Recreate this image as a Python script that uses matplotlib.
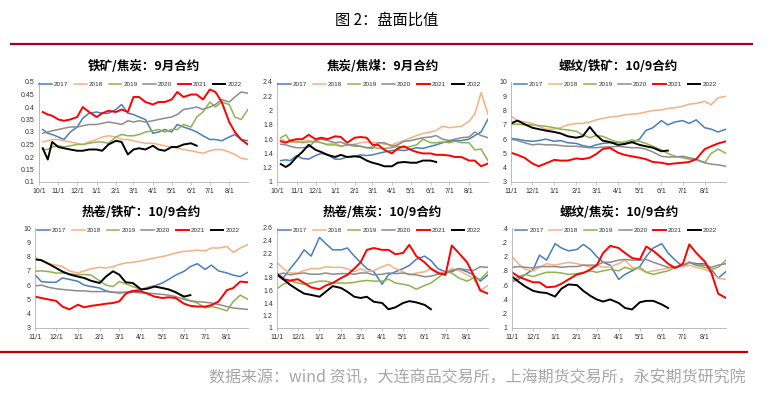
import matplotlib
matplotlib.use("Agg")
import matplotlib.pyplot as plt
import matplotlib.lines as mlines
import pandas as pd

plt.rcParams['font.family'] = ['Liberation Sans', 'Noto Sans CJK SC', 'DejaVu Sans']

YEARS = ['2017', '2018', '2019', '2020', '2021', '2022']
COLORS = ['#4a7ebb', '#f6b083', '#8fb34f', '#8c8c8c', '#ff0000', '#000000']
WIDTHS = [1.1, 1.1, 1.1, 1.1, 1.4, 1.4]

DATES_OCT = ['10-07', '10-15', '10-22', '11-01', '11-10', '11-20', '12-01', '12-10', '12-20',
             '01-01', '01-10', '01-20', '02-01', '02-10', '02-20', '03-01', '03-10', '03-20',
             '04-01', '04-10', '04-20', '05-01', '05-10', '05-20', '06-01', '06-10', '06-20',
             '07-01', '07-10', '07-20', '08-01', '08-10', '08-20', '08-31']
DATES_NOV = DATES_OCT[3:]

TICKS_OCT = ['10/1', '11/1', '12/1', '1/1', '2/1', '3/1', '4/1', '5/1', '6/1', '7/1', '8/1']
TICKS_NOV = TICKS_OCT[1:]

# Panel 1: 铁矿/焦炭 9月合约
P1 = {
    '2017': [.31, .295, .29, .28, .27, .30, .32, .355, .375, .38, .375, .375, .39, .41, .375, .37, .36, .35,
             .295, .30, .31, .30, .33, .32, .31, .30, .285, .27, .27, .265, .28, .29, .27, .265],
    '2018': [.26, .265, .27, .27, .265, .26, .255, .25, .26, .27, .28, .285, .28, .27, .27, .265, .26, .255,
             .255, .25, .245, .24, .235, .23, .225, .22, .215, .225, .23, .23, .22, .21, .195, .19],
    '2019': [.23, .23, .24, .245, .24, .245, .25, .25, .255, .26, .26, .255, .28, .29, .285, .285, .29, .30,
             .305, .31, .30, .31, .31, .33, .32, .36, .38, .42, .40, .42, .41, .36, .35, .39],
    '2020': [.295, .30, .305, .31, .315, .32, .32, .325, .33, .33, .335, .34, .335, .33, .345, .34, .345, .34,
             .345, .35, .355, .36, .37, .39, .395, .40, .39, .40, .41, .43, .42, .44, .46, .455],
    '2021': [.38, .37, .365, .35, .345, .35, .36, .40, .38, .36, .375, .385, .38, .39, .38, .44, .44, .42,
             .41, .42, .42, .43, .46, .44, .45, .45, .43, .47, .46, .42, .34, .30, .27, .25],
    '2022': [.235, .19, .26, .24, .235, .23, .225, .225, .23, .23, .225, .25, .265, .26, .21, .23, .235, .23,
             .245, .23, .225, .24, .24, .25, .255, .245],
}
# Panel 2: 焦炭/焦煤 9月合约
P2 = {
    '2017': [1.30, 1.31, 1.30, 1.37, 1.33, 1.32, 1.37, 1.40, 1.38, 1.32, 1.32, 1.35, 1.36, 1.38, 1.37, 1.38, 1.40,
             1.42, 1.44, 1.45, 1.44, 1.46, 1.48, 1.47, 1.50, 1.52, 1.55, 1.57, 1.58, 1.58, 1.60, 1.65, 1.70, 1.88],
    '2018': [1.60, 1.57, 1.56, 1.55, 1.57, 1.58, 1.56, 1.55, 1.53, 1.55, 1.50, 1.52, 1.53, 1.55, 1.56, 1.55, 1.55,
             1.53, 1.52, 1.55, 1.58, 1.62, 1.65, 1.68, 1.70, 1.72, 1.78, 1.76, 1.77, 1.78, 1.85, 1.95, 2.25, 1.95],
    '2019': [1.62, 1.66, 1.57, 1.57, 1.55, 1.56, 1.57, 1.55, 1.52, 1.52, 1.50, 1.52, 1.50, 1.50, 1.48, 1.49, 1.47,
             1.47, 1.48, 1.50, 1.48, 1.50, 1.52, 1.60, 1.55, 1.55, 1.56, 1.55, 1.57, 1.55, 1.55, 1.45, 1.46, 1.30],
    '2020': [1.53, 1.52, 1.50, 1.48, 1.48, 1.49, 1.58, 1.60, 1.58, 1.55, 1.56, 1.52, 1.52, 1.50, 1.48, 1.47, 1.55,
             1.55, 1.50, 1.52, 1.57, 1.58, 1.60, 1.62, 1.63, 1.65, 1.60, 1.58, 1.60, 1.62, 1.63, 1.70, 1.65, 1.62],
    '2021': [1.57, 1.55, 1.58, 1.60, 1.60, 1.66, 1.60, 1.62, 1.60, 1.64, 1.63, 1.55, 1.62, 1.63, 1.62, 1.52, 1.52,
             1.45, 1.40, 1.47, 1.50, 1.45, 1.42, 1.40, 1.40, 1.38, 1.38, 1.37, 1.35, 1.35, 1.30, 1.30, 1.22, 1.26],
    '2022': [1.25, 1.21, 1.25, 1.35, 1.42, 1.52, 1.45, 1.42, 1.38, 1.35, 1.38, 1.35, 1.36, 1.35, 1.30, 1.27, 1.25,
             1.22, 1.22, 1.27, 1.28, 1.27, 1.27, 1.30, 1.30, 1.28],
}
# Panel 3: 螺纹/铁矿 10/9合约
P3 = {
    '2017': [6.05, 6.0, 5.9, 5.85, 5.9, 6.0, 5.85, 5.9, 5.75, 5.7, 5.55, 5.45, 5.6, 5.7, 5.75, 5.8, 5.7, 5.75,
             6.0, 6.6, 6.8, 7.3, 7.0, 7.2, 7.3, 7.1, 7.35, 6.8, 6.7, 6.5, 6.7],
    '2018': [7.6, 7.3, 7.2, 7.1, 6.9, 6.7, 6.7, 6.8, 7.0, 7.1, 7.1, 7.2, 7.35, 7.45, 7.55, 7.6, 7.7, 7.75,
             7.8, 7.9, 8.0, 8.05, 8.15, 8.2, 8.3, 8.45, 8.5, 8.65, 8.4, 8.9, 9.0],
    '2019': [7.05, 7.05, 7.0, 7.0, 6.95, 6.9, 6.8, 6.7, 6.65, 6.55, 6.3, 6.1, 6.25, 6.2, 6.0, 5.75, 5.8, 5.95,
             5.85, 5.7, 5.5, 5.25, 5.0, 4.8, 4.7, 4.6, 4.55, 4.35, 5.0, 5.3, 5.0],
    '2020': [6.0, 5.9, 5.75, 5.6, 5.65, 5.6, 5.6, 5.55, 5.5, 5.5, 5.45, 5.4, 5.4, 5.45, 5.45, 5.5, 5.45, 5.4,
             5.4, 5.3, 5.1, 4.8, 4.75, 4.75, 4.8, 4.7, 4.6, 4.35, 4.25, 4.2, 4.1],
    '2021': [5.05, 4.9, 4.7, 4.3, 4.1, 4.3, 4.55, 4.5, 4.5, 4.65, 4.6, 4.7, 4.95, 5.3, 5.4, 5.05, 4.9, 4.8,
             4.7, 4.6, 4.4, 4.35, 4.25, 4.3, 4.35, 4.4, 4.6, 5.3, 5.5, 5.7, 5.85],
    '2022': [7.1, 7.3, 7.05, 6.8, 6.7, 6.6, 6.5, 6.4, 6.2, 6.1, 6.2, 6.85, 6.3, 5.9, 5.8, 5.6, 5.65, 5.8,
             5.6, 5.5, 5.4, 5.15, 5.2],
}
# Panel 4: 热卷/铁矿 10/9合约
P4 = {
    '2017': [6.73, 6.25, 6.2, 6.2, 6.5, 6.4, 6.27, 6.0, 5.9, 5.8, 5.6, 5.5, 5.45, 5.5, 5.6, 5.7, 5.8, 5.95,
             6.15, 6.4, 6.7, 6.97, 7.3, 7.5, 7.1, 7.4, 7.0, 6.85, 6.7, 6.6, 6.9],
    '2018': [7.95, 7.7, 7.5, 7.4, 7.3, 7.0, 6.85, 7.0, 7.15, 7.25, 7.2, 7.3, 7.45, 7.55, 7.6, 7.7, 7.8, 7.9,
             8.0, 8.1, 8.25, 8.37, 8.4, 8.45, 8.4, 8.6, 8.6, 8.7, 8.3, 8.6, 8.85],
    '2019': [6.97, 7.0, 6.95, 6.85, 6.85, 6.8, 6.73, 6.75, 6.7, 6.3, 6.0, 5.9, 6.25, 6.1, 5.9, 5.7, 5.85, 5.95,
             5.8, 5.7, 5.55, 5.1, 4.9, 4.75, 4.4, 4.5, 4.4, 4.2, 4.85, 5.3, 5.0],
    '2020': [5.95, 6.0, 5.85, 5.75, 5.7, 5.65, 5.6, 5.6, 5.55, 5.55, 5.55, 5.5, 5.5, 5.5, 5.5, 5.45, 5.45, 5.4,
             5.35, 5.3, 5.2, 5.0, 4.9, 4.85, 4.8, 4.75, 4.65, 4.5, 4.4, 4.35, 4.3],
    '2021': [5.2, 5.1, 5.0, 4.9, 4.5, 4.3, 4.63, 4.45, 4.55, 4.63, 4.7, 4.75, 4.87, 5.4, 5.6, 5.57, 5.4, 5.2,
             5.1, 5.15, 5.1, 4.7, 4.55, 4.5, 4.5, 4.6, 4.85, 5.65, 5.8, 6.25, 6.2],
    '2022': [7.8, 7.75, 7.5, 7.2, 6.95, 6.75, 6.6, 6.5, 6.3, 6.15, 6.6, 6.97, 6.73, 6.2, 6.15, 5.7, 5.75, 5.9,
             5.8, 5.7, 5.5, 5.2, 5.3],
}
# Panel 5: 热卷/焦炭 10/9合约
P5 = {
    '2017': [1.88, 1.80, 1.95, 2.1, 2.25, 2.15, 2.45, 2.35, 2.25, 2.25, 2.28, 2.15, 2.05, 1.95, 1.90, 1.70, 1.85,
             1.90, 1.95, 2.0, 2.10, 2.15, 2.08, 1.95, 1.90, 1.90, 1.95, 1.90, 1.85, 1.75, 1.85],
    '2018': [2.05, 1.95, 1.88, 1.88, 1.92, 1.95, 1.95, 1.98, 1.97, 1.97, 1.95, 1.90, 1.95, 1.90, 1.92, 1.98, 2.02,
             1.95, 1.90, 1.85, 1.88, 1.90, 1.95, 1.90, 1.88, 1.95, 1.92, 1.85, 1.80, 1.60, 1.68],
    '2019': [1.63, 1.70, 1.75, 1.72, 1.70, 1.72, 1.75, 1.75, 1.72, 1.72, 1.72, 1.73, 1.75, 1.76, 1.75, 1.75, 1.78,
             1.72, 1.70, 1.68, 1.62, 1.68, 1.72, 1.80, 1.90, 1.88, 1.80, 1.75, 1.80, 1.78, 1.90],
    '2020': [1.85, 1.88, 1.85, 1.87, 1.88, 1.86, 1.86, 1.88, 1.86, 1.87, 1.87, 1.86, 1.88, 1.88, 1.85, 1.86, 1.88,
             1.87, 1.88, 1.86, 1.85, 1.82, 1.83, 1.86, 1.88, 1.92, 1.95, 1.93, 1.92, 1.98, 1.97],
    '2021': [1.85, 1.78, 1.76, 1.78, 1.72, 1.65, 1.62, 1.68, 1.72, 1.80, 1.85, 1.95, 2.05, 2.25, 2.28, 2.25, 2.25,
             2.18, 2.20, 2.33, 2.15, 2.05, 1.95, 1.88, 1.85, 2.32, 2.20, 2.05, 1.85, 1.60, 1.55],
    '2022': [1.86, 1.78, 1.69, 1.61, 1.55, 1.53, 1.50, 1.58, 1.67, 1.64, 1.58, 1.50, 1.48, 1.50, 1.42, 1.40, 1.30,
             1.33, 1.40, 1.43, 1.41, 1.37, 1.30],
}
# Panel 6: 螺纹/焦炭 10/9合约
P6 = {
    '2017': [1.65, 1.68, 1.75, 1.82, 2.02, 1.95, 2.18, 2.12, 2.08, 2.10, 2.17, 2.10, 2.00, 1.92, 1.88, 1.68, 1.75,
             1.80, 1.86, 2.0, 2.12, 2.18, 2.05, 1.95, 1.86, 1.92, 1.90, 1.90, 1.82, 1.70, 1.79],
    '2018': [2.0, 1.90, 1.82, 1.80, 1.85, 1.90, 1.88, 1.90, 1.92, 1.90, 1.88, 1.85, 1.88, 1.85, 1.86, 1.90, 1.95,
             1.85, 1.82, 1.78, 1.80, 1.82, 1.84, 1.85, 1.86, 1.88, 1.85, 1.82, 1.78, 1.70, 1.68],
    '2019': [1.65, 1.72, 1.75, 1.72, 1.75, 1.78, 1.78, 1.77, 1.75, 1.76, 1.78, 1.80, 1.78, 1.80, 1.82, 1.80, 1.85,
             1.82, 1.85, 1.78, 1.75, 1.78, 1.80, 1.85, 1.88, 1.92, 1.88, 1.85, 1.82, 1.85, 1.95],
    '2020': [1.85, 1.86, 1.85, 1.84, 1.86, 1.86, 1.86, 1.85, 1.86, 1.86, 1.88, 1.88, 1.88, 1.92, 1.92, 1.95, 1.96,
             1.95, 1.95, 1.96, 1.92, 1.88, 1.85, 1.85, 1.88, 1.92, 1.88, 1.88, 1.85, 1.88, 1.90],
    '2021': [1.78, 1.72, 1.68, 1.64, 1.64, 1.57, 1.58, 1.62, 1.68, 1.75, 1.77, 1.82, 1.88, 2.05, 2.15, 2.12, 2.05,
             1.98, 1.96, 2.14, 2.08, 1.98, 1.90, 1.84, 1.90, 2.17, 2.05, 1.93, 1.78, 1.48, 1.42],
    '2022': [1.72, 1.65, 1.58, 1.52, 1.50, 1.49, 1.44, 1.55, 1.61, 1.60, 1.52, 1.45, 1.40, 1.37, 1.40, 1.35, 1.28,
             1.26, 1.36, 1.38, 1.38, 1.33, 1.28],
}

TITLES = ['铁矿/焦炭：9月合约', '焦炭/焦煤：9月合约', '螺纹/铁矿：10/9合约',
          '热卷/铁矿：10/9合约', '热卷/焦炭：10/9合约', '螺纹/焦炭：10/9合约']

Y1_TICKS = [0.1, 0.15, 0.2, 0.25, 0.3, 0.35, 0.4, 0.45, 0.5]
Y1_LABELS = ['0.1', '0.15', '0.2', '0.25', '0.3', '0.35', '0.4', '0.45', '0.5']
Y2_TICKS = [1, 1.2, 1.4, 1.6, 1.8, 2, 2.2, 2.4]
Y2_LABELS = ['1', '1.2', '1.4', '1.6', '1.8', '2', '2.2', '2.4']
Y3_TICKS = [3, 4, 5, 6, 7, 8, 9, 10]
Y3_LABELS = ['3', '4', '5', '6', '7', '8', '9', '10']
Y5_TICKS = [1, 1.2, 1.4, 1.6, 1.8, 2, 2.2, 2.4, 2.6]
Y5_LABELS = ['1', '1.2', '1.4', '1.6', '1.8', '2', '2.2', '2.4', '2.6']
Y6_LABELS = ['1', '.2', '.4', '.6', '.8', '2', '.2', '.4']


def to_dates(mds):
    out = []
    for md in mds:
        m = int(md[:2])
        y = 2000 if m >= 10 else 2001
        out.append(pd.Timestamp(f"{y}-{md}"))
    return out


def month_ticks(labels):
    out = []
    for lab in labels:
        m = int(lab.split('/')[0])
        y = 2000 if m >= 10 else 2001
        out.append(pd.Timestamp(year=y, month=m, day=1))
    return out


W, H = 774, 398
fig = plt.figure(figsize=(W / 100, H / 100), dpi=100)


def px_axes(x0, x1, y0, y1):
    return fig.add_axes([x0 / W, 1 - y1 / H, (x1 - x0) / W, (y1 - y0) / H])


panels = [
    (P1, DATES_OCT, TICKS_OCT, Y1_TICKS, Y1_LABELS, (39, 248, 82, 182), '10-01'),
    (P2, DATES_OCT, TICKS_OCT, Y2_TICKS, Y2_LABELS, (277, 488, 82, 182), '10-01'),
    (P3, DATES_NOV, TICKS_NOV, Y3_TICKS, Y3_LABELS, (511, 726, 82, 182), '11-01'),
    (P4, DATES_NOV, TICKS_NOV, Y3_TICKS, Y3_LABELS, (35, 248, 228, 328), '11-01'),
    (P5, DATES_NOV, TICKS_NOV, Y5_TICKS, Y5_LABELS, (277, 488, 228, 328), '11-01'),
    (P6, DATES_NOV, TICKS_NOV, Y2_TICKS, Y6_LABELS, (512, 726, 228, 328), '11-01'),
]

for i, (data, dates, xt, yt, yl, box, start) in enumerate(panels):
    ax = px_axes(*box)
    d = to_dates(dates)
    for yr, c, lw in zip(YEARS, COLORS, WIDTHS):
        vals = data[yr]
        ax.plot(d[:len(vals)], vals, color=c, lw=lw, solid_joinstyle='round')
    ax.set_xlim(to_dates([start])[0], pd.Timestamp('2001-08-31'))
    ax.set_ylim(yt[0], yt[-1])
    ax.set_yticks(yt)
    ax.set_yticklabels(yl)
    ax.set_xticks(month_ticks(xt))
    ax.set_xticklabels(xt)
    for s in ['top', 'right']:
        ax.spines[s].set_visible(False)
    for s in ['left', 'bottom']:
        ax.spines[s].set_color('#b0b0b0')
        ax.spines[s].set_linewidth(0.6)
    ax.tick_params(axis='x', labelsize=5, length=2, width=0.5, color='#b0b0b0', pad=2,
                   labelcolor='#333333')
    ax.tick_params(axis='y', labelsize=5, length=0, pad=3, labelcolor='#333333')
    cx = (box[0] + box[1]) / 2
    ty = 66 if box[2] < 100 else 212
    fig.text(cx / W, 1 - ty / H, TITLES[i], ha='center', va='center', fontsize=9,
             fontweight='bold', family=['Noto Sans CJK SC', 'DejaVu Sans'])
    handles = [mlines.Line2D([], [], color=c, lw=lw) for c, lw in zip(COLORS, WIDTHS)]
    ax.legend(handles, YEARS, loc='center', bbox_to_anchor=(0.485, 0.975), ncol=6, frameon=False,
              fontsize=4.6, handlelength=2.0, handletextpad=0.3, columnspacing=0.9, borderaxespad=0,
              borderpad=0, labelcolor='#333333')

# header and footer
fig.text(387 / W, 1 - 20 / H, '图 2：盘面比值', ha='center', va='center', fontsize=11,
         family=['Noto Sans CJK SC', 'DejaVu Sans'])
fig.add_artist(mlines.Line2D([11 / W, 752 / W], [1 - 44 / H, 1 - 44 / H], color='#a50021', lw=1.6))
fig.add_artist(mlines.Line2D([0 / W, 747 / W], [1 - 352 / H, 1 - 352 / H], color='#c00000', lw=1.6))
fig.text(746 / W, 1 - 378 / H, '数据来源：wind 资讯，大连商品交易所，上海期货交易所，永安期货研究院',
         ha='right', va='center', fontsize=11.5, color='#a6a6a6',
         family=['Noto Sans CJK SC', 'DejaVu Sans'])

fig.savefig('out.png', dpi=100)
